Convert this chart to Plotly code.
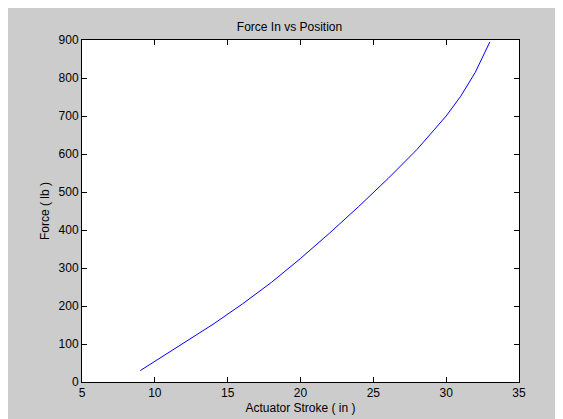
import plotly.graph_objects as go

stroke = [9, 10, 12, 14, 16, 18, 20, 22, 24, 26, 28, 29, 30, 31, 32, 33]
force = [30, 54, 102, 152, 205, 262, 325, 392, 462, 535, 612, 655, 700, 752, 815, 895]

fig = go.Figure()
fig.add_trace(go.Scatter(x=stroke, y=force, mode="lines", line=dict(color="blue", width=1)))

ax = dict(showgrid=False, zeroline=False, showline=True, linecolor="black", linewidth=1,
          mirror="ticks", ticks="inside", ticklen=5, tickcolor="black", automargin=False,
          tickfont=dict(size=12, color="black"))
fig.update_layout(
    width=563, height=419,
    paper_bgcolor="#cccccc", plot_bgcolor="white",
    font=dict(family="Liberation Sans, Arial", size=12, color="black"),
    margin=dict(l=74, r=52, t=32, b=45, autoexpand=False),
    showlegend=False,
    title=dict(text="Force In vs Position", x=0.5, xanchor="center", y=0.965, font=dict(size=12)),
    xaxis=dict(ax, range=[5, 35], dtick=5, title=dict(text="Actuator Stroke ( in )", standoff=4, font=dict(size=12))),
    yaxis=dict(ax, range=[0, 900], dtick=100, title=dict(text="Force ( lb )", standoff=6, font=dict(size=12))),
)
fig.write_html("out.html")
